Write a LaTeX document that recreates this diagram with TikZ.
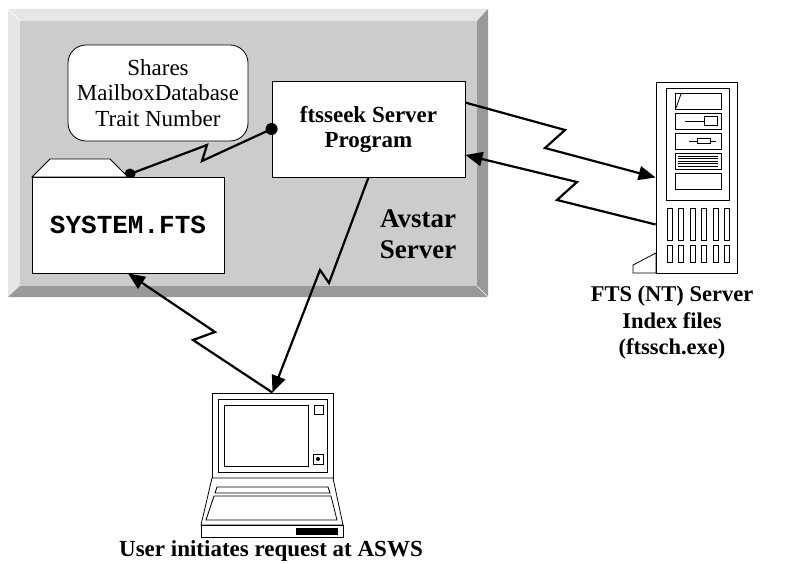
\documentclass[tikz,border=0pt]{standalone}
\usepackage{fontspec}
\setmainfont{Liberation Serif}
\setmonofont{Liberation Mono}
\usetikzlibrary{arrows.meta,calc}
\definecolor{bevface}{HTML}{CCCCCC}
\definecolor{bevlight}{HTML}{E6E6E6}
\definecolor{bevdark}{HTML}{999999}
\begin{document}
\begin{tikzpicture}[x=1pt,y=-1pt,
  box/.style={draw, fill=white, line width=0.8pt, inner sep=0pt},
  thin/.style={line width=0.8pt},
  link/.style={line width=2.2pt, line join=miter, miter limit=20},
  arrowend/.style={-{Triangle[length=17pt,width=14pt]}},
  bodytext/.style={font=\fontsize{23}{25.5}\selectfont, align=center},
  boldtext/.style={font=\bfseries\fontsize{23}{25}\selectfont, align=center},
]
\fill[white] (0,0) rectangle (787,564);
\useasboundingbox (0,0) rectangle (787,564);

% bevelled server panel
\fill[bevlight] (8,9) -- (488,9) -- (477,21) -- (20,21) -- (20,286) -- (8,297) -- cycle;
\fill[bevdark] (488,9) -- (488,297) -- (8,297) -- (20,286) -- (477,286) -- (477,21) -- cycle;
\fill[bevface] (20,21) rectangle (477,286);
\draw[white, line width=0.6pt] (8,9) -- (20,21) (477,286) -- (488,297);

% note bubble
\node[box, rounded corners=18pt, minimum width=180pt, minimum height=96pt, bodytext]
  (shares) at (158,93) {Shares\\MailboxDatabase\\Trait Number};

% program box
\node[box, minimum width=193pt, minimum height=96pt, boldtext]
  (seek) at (368.5,129) {ftsseek Server\\Program};

% link between program and folder
\coordinate (fdot) at (130,174);
\draw[link] (fdot) -- (207,145) -- (202,161) -- (seek.west);
\fill (seek.west) circle (6pt);
\fill (fdot) circle (5.5pt);

% folder
\draw[box] (32,177) -- (50,159) -- (110,159) -- (128,177) -- cycle;
\node[box, minimum width=192pt, minimum height=96pt,
  font=\ttfamily\bfseries\fontsize{26}{28}\selectfont]
  (folder) at (128,225) {SYSTEM.FTS};

% panel caption
\node[font=\bfseries\fontsize{27}{31}\selectfont, align=center, inner sep=0pt]
  (avstar) at (418,234) {Avstar\\Server};

% tower server
\draw[thin, fill=white] (656,253) -- (633,265) -- (633,273) -- (656,273) -- cycle;
\node[box, minimum width=81pt, minimum height=191pt] (tower) at (696.5,177.5) {};
\draw[thin] (666,88) rectangle (729,200);
\draw[thin] (675,93) rectangle (721,109);
\draw[thin] (681,94) -- (676,108);
\draw[thin] (675,113) rectangle (721,129);
\draw[thin] (685,121) -- (704,121);
\draw[thin] (704,116.5) rectangle (717,125.5);
\draw[thin] (675,133) rectangle (721,149);
\draw[thin] (689,141) -- (716,141);
\draw[thin, fill=white] (697,138.5) rectangle (710,143.5);
\draw[thin] (675,153) rectangle (721,169);
\foreach \k in {0,...,4} \draw[line width=0.5pt] (678,156+2.5*\k) -- (718,156+2.5*\k);
\draw[thin] (675,173) rectangle (721,189);
\foreach \k in {0,...,5} {
  \draw[thin] (667+11.5*\k,208) rectangle (672+11.5*\k,240);
  \draw[thin] (667+11.5*\k,245) rectangle (672+11.5*\k,262);
}
\node[boldtext, font=\bfseries\fontsize{22.5}{26.5}\selectfont, inner sep=0pt]
  (ftslabel) at (672,323) {FTS (NT) Server\\Index files\\(ftssch.exe)};

% laptop
\node[box, minimum width=121pt, minimum height=85pt] (laptop) at (272.5,435.5) {};
\draw[thin] (218,399) rectangle (327,472);
\draw[thin] (224,405) rectangle (308,466);
\draw[thin] (314,405) rectangle (323,414);
\draw[thin] (313,454) rectangle (323,464);
\fill (318,459) circle (2pt);
\draw[thin, fill=white] (212,478) -- (333,478) -- (343,525) -- (201,525) -- cycle;
\draw[thin, fill=white] (201,525) rectangle (343,537);
\draw[thin] (217,487) -- (328,487) -- (330,493) -- (215,493) -- cycle;
\draw[thin] (214,496) -- (331,496) -- (337,520) -- (206,520) -- cycle;
\fill (296,528) rectangle (338,535);
\node[boldtext, inner sep=0pt, anchor=base] (userlabel) at (271,556) {User initiates request at ASWS};

% data links
\draw[link, arrowend] ([yshift=-22pt]seek.north east) -- (565,130) -- (545,148) -- (tower.west);
\draw[link, arrowend] ([yshift=-47pt]tower.west) -- (557,200) -- (577,182) -- ([yshift=-26pt]seek.east);
\draw[link, arrowend] (seek.south) -- (329,283) -- (320,270) -- (laptop.north);
\draw[link, arrowend] (laptop.north) -- (193,340) -- (215,332) -- (folder.south);
\end{tikzpicture}
\end{document}
